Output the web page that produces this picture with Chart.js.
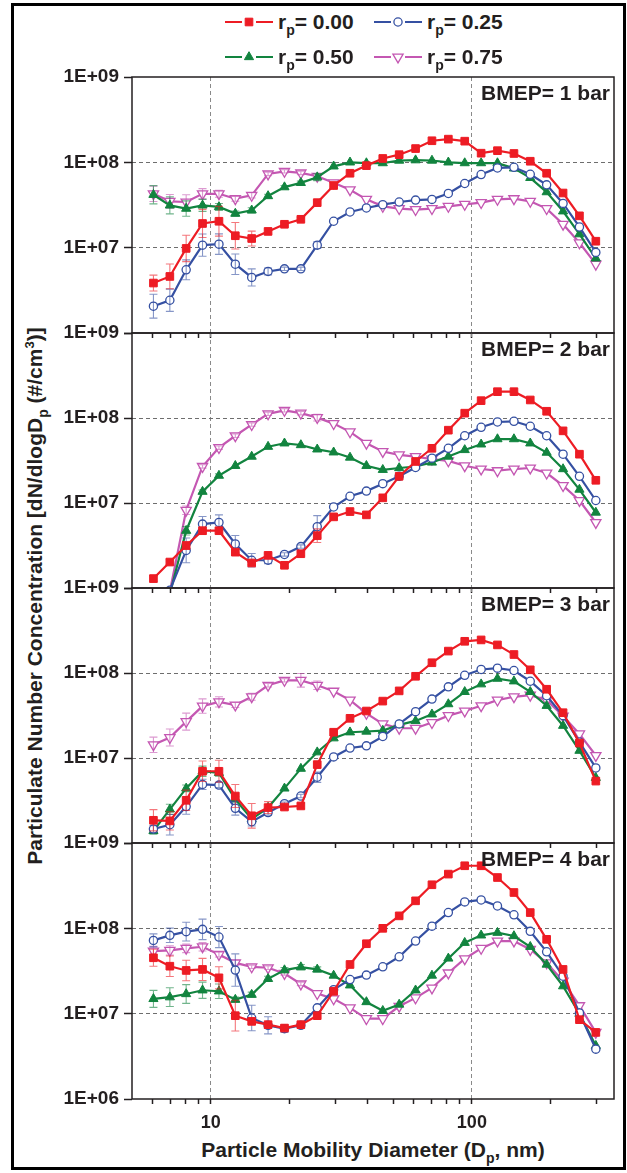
<!DOCTYPE html>
<html>
<head>
<meta charset="utf-8">
<script src="https://cdn.jsdelivr.net/npm/chart.js@4.4.0/dist/chart.umd.min.js"></script>
<style>
  html, body { margin: 0; padding: 0; background: #fff; }
  body { position: relative; width: 627px; height: 1173px; overflow: hidden;
         font-family: "Liberation Sans", Arial, sans-serif; font-weight: bold; color: #231f20; }
  #frame { position: absolute; left: 11px; top: 3px; width: 615px; height: 1167px;
           box-sizing: border-box; border: 3px solid #000; }
  .panel { position: absolute; left: 0; width: 627px; }
  .txt { position: absolute; white-space: nowrap; font-size: 21px; line-height: 21px; }
  .bmep { right: 17px; }
  .leg-line { position: absolute; }
  sub.p { font-size: 14px; vertical-align: -6px; line-height: 0; }
  sup.s { font-size: 13px; vertical-align: 8px; line-height: 0; }
  #ytitle { left: 35px; top: 596px; width: 700px; text-align: center; line-height: 22px;
            transform: translate(-50%, -50%) rotate(-90deg); }
  #xtitle { left: 373px; top: 1139px; transform: translateX(-50%); }
</style>
</head>
<body>
<div id="frame"></div>
<div class="txt" id="ytitle">Particulate Number Concentration [dN/dlogD<sub class="p">p</sub> (#/cm<sup class="s">3</sup>)]</div>
<div class="txt" id="xtitle">Particle Mobility Diameter (D<sub class="p">p</sub>, nm)</div>

<script>
// diametri (nm) delle classi SMPS
const diameters = [6.04, 6.98, 8.06, 9.31, 10.76, 12.43, 14.36, 16.59, 19.17, 22.15,
  25.59, 29.57, 34.16, 39.47, 45.6, 52.69, 60.88, 70.34, 81.27, 93.9,
  108.5, 125.3, 144.9, 167.3, 193.3, 223.4, 258.1, 298.2];

const seriesNames = ['0.00', '0.25', '0.50', '0.75'];
const panelLabels = ['BMEP= 1 bar', 'BMEP= 2 bar', 'BMEP= 3 bar', 'BMEP= 4 bar'];

const yTickValues = [1e6, 1e7, 1e8, 1e9];
const yTickLabels = ['1E+06', '1E+07', '1E+08', '1E+09'];
const xTickValues = [6, 7, 8, 9, 10, 20, 30, 40, 50, 60, 70, 80, 90, 100, 200, 300];
const xLabelValues = [10, 100];
const xLabelTexts = ['10', '100'];

// BMEP = 1 bar
const p1_rp000 = [3.85e6, 4.6e6, 9.8e6, 1.92e7, 2.04e7, 1.38e7, 1.28e7, 1.55e7, 1.88e7, 2.15e7, 3.37e7, 5.35e7, 7.45e7, 9.15e7, 1.11e8, 1.23e8, 1.45e8, 1.79e8, 1.87e8, 1.77e8, 1.28e8, 1.37e8, 1.27e8, 1.03e8, 7.45e7, 4.37e7, 2.36e7, 1.19e7];
const p1_rp025 = [2.06e6, 2.42e6, 5.5e6, 1.07e7, 1.1e7, 6.4e6, 4.48e6, 5.26e6, 5.65e6, 5.65e6, 1.07e7, 2.04e7, 2.62e7, 2.92e7, 3.19e7, 3.43e7, 3.61e7, 3.68e7, 4.32e7, 5.65e7, 7.19e7, 8.59e7, 8.75e7, 7.25e7, 5.45e7, 3.3e7, 1.75e7, 8.8e6];
const p1_rp050 = [4.17e7, 3.13e7, 2.87e7, 3.13e7, 3.0e7, 2.51e7, 2.74e7, 4.03e7, 5.12e7, 5.75e7, 6.7e7, 8.98e7, 1.0e8, 9.8e7, 9.8e7, 1.05e8, 1.06e8, 1.05e8, 1.0e8, 9.8e7, 9.8e7, 9.8e7, 8.5e7, 6.58e7, 4.48e7, 2.67e7, 1.44e7, 7.5e6];
const p1_rp075 = [4.28e7, 3.49e7, 3.43e7, 4.28e7, 4.28e7, 3.75e7, 4.1e7, 7.31e7, 7.85e7, 7.51e7, 6.87e7, 5.75e7, 4.77e7, 3.68e7, 3.05e7, 2.87e7, 2.79e7, 2.87e7, 3.05e7, 3.22e7, 3.37e7, 3.68e7, 3.75e7, 3.49e7, 2.87e7, 1.88e7, 1.14e7, 6.4e6];

// BMEP = 2 bar
const p2_rp000 = [1.29e6, 2.02e6, 3.16e6, 4.72e6, 4.72e6, 2.64e6, 1.97e6, 2.42e6, 1.85e6, 2.53e6, 4.13e6, 6.87e6, 7.93e6, 7.25e6, 1.15e7, 2.06e7, 3.08e7, 4.4e7, 7.19e7, 1.14e8, 1.6e8, 2.04e8, 2.04e8, 1.63e8, 1.2e8, 7.06e7, 3.75e7, 1.85e7];
const p2_rp025 = [null, 9.4e5, 2.77e6, 5.65e6, 5.9e6, 3.3e6, 2.12e6, 2.12e6, 2.48e6, 3.07e6, 5.26e6, 8.98e6, 1.2e7, 1.38e7, 1.69e7, 2.06e7, 2.62e7, 3.37e7, 4.4e7, 6.18e7, 7.78e7, 8.98e7, 9.15e7, 8.0e7, 6.18e7, 3.75e7, 2.06e7, 1.07e7];
const p2_rp050 = [null, 8.5e5, 4.72e6, 1.36e7, 2.1e7, 2.74e7, 3.52e7, 4.6e7, 5.04e7, 4.81e7, 4.28e7, 3.95e7, 3.43e7, 2.74e7, 2.46e7, 2.58e7, 2.69e7, 3.0e7, 3.52e7, 4.21e7, 4.9e7, 5.65e7, 5.65e7, 5.04e7, 3.92e7, 2.51e7, 1.44e7, 7.73e6];
const p2_rp075 = [null, 9.1e5, 8.22e6, 2.69e7, 4.48e7, 6.18e7, 8.36e7, 1.12e8, 1.23e8, 1.14e8, 1.01e8, 8.59e7, 6.87e7, 5.04e7, 4.03e7, 3.68e7, 3.52e7, 3.28e7, 3.13e7, 2.74e7, 2.51e7, 2.4e7, 2.51e7, 2.58e7, 2.25e7, 1.6e7, 1.07e7, 5.9e6];

// BMEP = 3 bar
const p3_rp000 = [1.85e6, 1.82e6, 3.18e6, 6.98e6, 6.98e6, 3.57e6, 2.09e6, 2.61e6, 2.65e6, 2.73e6, 8.36e6, 2.01e7, 2.93e7, 3.57e7, 4.67e7, 6.16e7, 9.15e7, 1.32e8, 1.81e8, 2.36e8, 2.45e8, 2.14e8, 1.65e8, 1.09e8, 6.44e7, 3.41e7, 1.5e7, 5.35e6];
const p3_rp025 = [1.46e6, 1.64e6, 2.68e6, 4.89e6, 4.8e6, 2.56e6, 1.78e6, 2.28e6, 2.9e6, 3.57e6, 5.94e6, 1.03e7, 1.31e7, 1.39e7, 1.79e7, 2.52e7, 3.51e7, 4.93e7, 6.87e7, 9.4e7, 1.1e8, 1.14e8, 1.07e8, 8.0e7, 5.4e7, 3.15e7, 1.54e7, 7.64e6];
const p3_rp050 = [1.39e6, 2.49e6, 4.39e6, 6.98e6, 6.68e6, 3.27e6, 1.91e6, 2.61e6, 4.39e6, 7.5e6, 1.17e7, 1.71e7, 2.01e7, 2.05e7, 2.1e7, 2.45e7, 2.73e7, 3.27e7, 4.31e7, 6.0e7, 7.38e7, 8.59e7, 8.0e7, 6.0e7, 4.12e7, 2.4e7, 1.22e7, 5.85e6];
const p3_rp075 = [1.43e7, 1.74e7, 2.68e7, 4.08e7, 4.58e7, 4.2e7, 5.25e7, 7.18e7, 8.2e7, 8.2e7, 7.18e7, 6.11e7, 4.8e7, 3.35e7, 2.52e7, 2.24e7, 2.24e7, 2.61e7, 3.15e7, 3.57e7, 4.12e7, 4.8e7, 5.25e7, 5.48e7, 4.8e7, 3.12e7, 1.92e7, 1.07e7];

// BMEP = 4 bar
const p4_rp000 = [4.52e7, 3.6e7, 3.21e7, 3.3e7, 2.63e7, 9.47e6, 8.12e6, 7.43e6, 6.78e6, 7.43e6, 9.47e6, 1.83e7, 3.77e7, 6.6e7, 1.0e8, 1.4e8, 2.1e8, 3.24e8, 4.32e8, 5.41e8, 5.41e8, 3.94e8, 2.63e8, 1.53e8, 7.43e7, 3.3e7, 8.5e6, 6.03e6];
const p4_rp025 = [7.22e7, 8.28e7, 9.14e7, 9.73e7, 7.91e7, 3.24e7, 8.9e6, 7.3e6, 6.67e6, 7.3e6, 1.17e7, 1.91e7, 2.51e7, 2.83e7, 3.54e7, 4.64e7, 7.1e7, 1.06e8, 1.53e8, 2.04e8, 2.15e8, 1.83e8, 1.44e8, 9.22e7, 5.31e7, 2.75e7, 1.02e7, 3.84e6];
const p4_rp050 = [1.49e7, 1.56e7, 1.7e7, 1.88e7, 1.83e7, 1.46e7, 1.67e7, 2.56e7, 3.24e7, 3.51e7, 3.3e7, 2.8e7, 2.15e7, 1.37e7, 1.08e7, 1.28e7, 1.88e7, 2.8e7, 4.44e7, 6.78e7, 8.28e7, 8.89e7, 8.13e7, 6.08e7, 3.77e7, 2.1e7, 1.0e7, 4.21e6];
const p4_rp075 = [5.41e7, 5.51e7, 5.82e7, 6.08e7, 4.94e7, 3.94e7, 3.54e7, 3.45e7, 2.96e7, 2.23e7, 1.72e7, 1.49e7, 1.17e7, 8.74e6, 8.74e6, 1.22e7, 1.53e7, 2.0e7, 3.0e7, 4.4e7, 5.82e7, 7.1e7, 7.1e7, 5.66e7, 3.94e7, 2.4e7, 1.24e7, 6.03e6];

// barre d'errore: semiampiezza in decadi (log10), dalle classi piu' piccole
const e1_rp000 = [0.093, 0.145, 0.155, 0.165, 0.174, 0.155, 0.087, 0.03, 0.02, 0.02];
const e1_rp025 = [0.14, 0.13, 0.116, 0.13, 0.12, 0.12, 0.1, 0.04, 0.02, 0.02, 0.04];
const e1_rp050 = [0.107, 0.1, 0.09, 0.07, 0.04, 0.03, 0.03, 0.02, 0.02, 0.02, 0.04];
const e1_rp075 = [0.09, 0.08, 0.085, 0.06, 0.04, 0.03, 0.03, 0.02, 0.02, 0.02, 0.02];
const e2_rp000 = [0.04, 0.03, 0.04, 0.04, 0.03, 0.03, 0.02, 0.02, 0.02, 0.02, 0.08];
const e2_rp025 = [0, 0, 0.145, 0.09, 0.09, 0.1, 0.08, 0.04, 0.02, 0.02, 0.13];
const e2_rp050 = [0, 0, 0.05, 0.02, 0.02];
const e2_rp075 = [0, 0, 0.05, 0.02, 0.02, 0.02, 0.02, 0.02, 0.02, 0.02, 0.04];
const e3_rp000 = [0.125, 0.107, 0.12, 0.12, 0.13, 0.135, 0.145, 0.07, 0.03, 0.03];
const e3_rp025 = [0.04, 0.12, 0.09, 0.06, 0.03, 0.08, 0.05, 0.03, 0.02, 0.02, 0.06];
const e3_rp050 = [0.04, 0.06, 0.04, 0.06, 0.04, 0.03];
const e3_rp075 = [0.09, 0.1, 0.1, 0.085, 0.06, 0.03, 0.04, 0.02, 0.02, 0.08, 0.05];
const e4_rp000 = [0.1, 0.12, 0.12, 0.13, 0.13, 0.18, 0.03, 0.02, 0.02, 0.02];
const e4_rp025 = [0.076, 0.084, 0.11, 0.12, 0.124, 0.19, 0.15, 0.1, 0.045, 0.02];
const e4_rp050 = [0.1, 0.11, 0.11, 0.095, 0.085, 0.03, 0.03, 0.03, 0.03, 0.03, 0.03];
const e4_rp075 = [0.055, 0.055, 0.05, 0.05, 0.03, 0.03, 0.02, 0.02, 0.02, 0.02];

const panelValues = [
  [p1_rp000, p1_rp025, p1_rp050, p1_rp075],
  [p2_rp000, p2_rp025, p2_rp050, p2_rp075],
  [p3_rp000, p3_rp025, p3_rp050, p3_rp075],
  [p4_rp000, p4_rp025, p4_rp050, p4_rp075]
];
const panelErrors = [
  [e1_rp000, e1_rp025, e1_rp050, e1_rp075],
  [e2_rp000, e2_rp025, e2_rp050, e2_rp075],
  [e3_rp000, e3_rp025, e3_rp050, e3_rp075],
  [e4_rp000, e4_rp025, e4_rp050, e4_rp075]
];

// stile delle serie
const seriesStyle = [
  { color: '#ed1c24', err: 'rgba(237,28,36,0.6)', fill: '#ed1c24', pointStyle: 'rect', radius: 5.4, rotation: 0, bw: 1 },
  { color: '#3550a2', err: 'rgba(53,80,162,0.6)', fill: '#ffffff', pointStyle: 'circle', radius: 4.1, rotation: 0, bw: 1.3 },
  { color: '#12843f', err: 'rgba(18,132,63,0.6)', fill: '#12843f', pointStyle: 'triangle', radius: 5.3, rotation: 0, bw: 1 },
  { color: '#c457b2', err: 'rgba(196,87,178,0.6)', fill: '#ffffff', pointStyle: 'triangle', radius: 5.9, rotation: 180, bw: 1.3 }
];

// impaginazione
const panelTops = [77, 333, 588, 843];
const panelHeights = [256, 255, 255, 256];
const plotLeft = 132;
const plotRight = 614;
const padTop = 20;
const xAxisH = 40;
const FONT = '"Liberation Sans", Arial, sans-serif';
const INK = '#231f20';

Chart.defaults.font.family = FONT;
Chart.defaults.color = INK;

// cornice del pannello
const framePlugin = {
  id: 'frame',
  afterDatasetsDraw(chart) {
    const { ctx, chartArea: a } = chart;
    ctx.save();
    ctx.strokeStyle = INK;
    ctx.lineWidth = 1.5;
    ctx.strokeRect(a.left, a.top, a.right - a.left, a.bottom - a.top);
    ctx.restore();
  }
};

// barre d'errore (sopra i marker, come nell'originale)
const errorBarPlugin = {
  id: 'errorBars',
  afterDatasetDraw(chart, args) {
    const ds = chart.data.datasets[args.index];
    if (!ds.errLog) return;
    const { ctx, chartArea: a } = chart;
    const y = chart.scales.y;
    ctx.save();
    ctx.beginPath();
    ctx.rect(a.left, a.top, a.right - a.left, a.bottom - a.top);
    ctx.clip();
    ctx.strokeStyle = ds.errColor;
    ctx.lineWidth = 1.1;
    args.meta.data.forEach((pt, k) => {
      const e = ds.errLog[k];
      const v = ds.data[k].y;
      if (!e || v == null) return;
      const f = Math.pow(10, e);
      const yTop = y.getPixelForValue(v * f);
      const yBot = y.getPixelForValue(v / f);
      ctx.beginPath();
      ctx.moveTo(pt.x, yTop); ctx.lineTo(pt.x, yBot);
      ctx.moveTo(pt.x - 4, yTop); ctx.lineTo(pt.x + 4, yTop);
      ctx.moveTo(pt.x - 4, yBot); ctx.lineTo(pt.x + 4, yBot);
      ctx.stroke();
    });
    ctx.restore();
  }
};

function makePanel(p) {
  const isLast = p === panelTops.length - 1;
  const wrap = document.createElement('div');
  wrap.className = 'panel';
  wrap.style.top = (panelTops[p] - padTop) + 'px';
  wrap.style.height = (padTop + panelHeights[p] + xAxisH) + 'px';
  const canvas = document.createElement('canvas');
  wrap.appendChild(canvas);
  document.body.appendChild(wrap);

  const datasets = seriesNames.map((name, s) => {
    const st = seriesStyle[s];
    return {
      label: 'rp= ' + name,
      data: diameters.map((d, k) => ({ x: d, y: panelValues[p][s][k] })),
      errLog: panelErrors[p][s],
      errColor: st.err,
      borderColor: st.color,
      backgroundColor: st.fill,
      borderWidth: 2.2,
      pointStyle: st.pointStyle,
      pointRadius: st.radius,
      pointRotation: st.rotation,
      pointBackgroundColor: st.fill,
      pointBorderColor: st.color,
      pointBorderWidth: st.bw,
      tension: 0,
      spanGaps: false,
      clip: 0
    };
  });

  new Chart(canvas, {
    type: 'line',
    data: { datasets },
    plugins: [framePlugin, errorBarPlugin],
    options: {
      responsive: true,
      maintainAspectRatio: false,
      animation: false,
      layout: { padding: { top: padTop, right: 627 - plotRight, left: 0, bottom: 0 } },
      plugins: { legend: { display: false }, tooltip: { enabled: false } },
      scales: {
        x: {
          type: 'logarithmic',
          min: 5,
          max: 350,
          afterBuildTicks: sc => { sc.ticks = xTickValues.map(v => ({ value: v })); },
          afterFit: sc => { sc.height = xAxisH; },
          ticks: {
            autoSkip: false,
            maxRotation: 0,
            padding: 8,
            color: INK,
            font: { size: 18, weight: 'bold' },
            callback: v => {
              const i = xLabelValues.indexOf(v);
              return (isLast && i >= 0) ? xLabelTexts[i] : '';
            }
          },
          grid: {
            color: c => (c.tick && xLabelValues.includes(c.tick.value)) ? '#8a8a8a' : 'rgba(0,0,0,0)',
            lineWidth: 1,
            tickLength: 5,
            tickColor: INK,
            tickWidth: 1.5
          },
          border: { display: false, dash: [4, 3] }
        },
        y: {
          type: 'logarithmic',
          min: 1e6,
          max: 1e9,
          afterBuildTicks: sc => { sc.ticks = yTickValues.map(v => ({ value: v })); },
          afterFit: sc => { sc.width = plotLeft; },
          ticks: {
            autoSkip: false,
            padding: 5,
            color: INK,
            font: { size: 19, weight: 'bold' },
            callback: v => {
              const i = yTickValues.indexOf(v);
              if (i < 0) return '';
              if (v === 1e6 && !isLast) return '';
              return yTickLabels[i];
            }
          },
          grid: {
            color: c => (c.tick && (c.tick.value === 1e7 || c.tick.value === 1e8)) ? '#6e6e6e' : 'rgba(0,0,0,0)',
            lineWidth: 1,
            tickLength: 8,
            tickColor: INK,
            tickWidth: 1.5
          },
          border: { display: false, dash: [4, 3] }
        }
      }
    }
  });

  const lab = document.createElement('div');
  lab.className = 'txt bmep';
  lab.style.top = (panelTops[p] + 5) + 'px';
  lab.textContent = panelLabels[p];
  document.body.appendChild(lab);
}

// legenda: linee e marker disegnati con la stessa routine di Chart.js
function makeLegend() {
  const lineX = [225, 374];
  const rowY = [22, 57];
  seriesNames.forEach((name, s) => {
    const st = seriesStyle[s];
    const x0 = lineX[s % 2];
    const y0 = rowY[Math.floor(s / 2)];
    const c = document.createElement('canvas');
    c.width = 50; c.height = 20;
    c.className = 'leg-line';
    c.style.left = x0 + 'px';
    c.style.top = (y0 - 10) + 'px';
    document.body.appendChild(c);
    const ctx = c.getContext('2d');
    ctx.strokeStyle = st.color;
    ctx.lineWidth = 2.2;
    ctx.beginPath(); ctx.moveTo(0, 10); ctx.lineTo(48, 10); ctx.stroke();
    ctx.fillStyle = '#ffffff';
    ctx.fillRect(17, 3, 14, 14);
    ctx.fillStyle = st.fill;
    ctx.strokeStyle = st.color;
    ctx.lineWidth = st.bw;
    Chart.helpers.drawPoint(ctx, { pointStyle: st.pointStyle, radius: st.radius, rotation: st.rotation, borderWidth: st.bw }, 24, 10);

    const t = document.createElement('div');
    t.className = 'txt';
    t.style.left = (x0 + 53) + 'px';
    t.style.top = (y0 - 11) + 'px';
    t.innerHTML = 'r<sub class="p">p</sub>= ' + name;
    document.body.appendChild(t);
  });
}

panelTops.forEach((_, p) => makePanel(p));
makeLegend();
</script>
</body>
</html>
